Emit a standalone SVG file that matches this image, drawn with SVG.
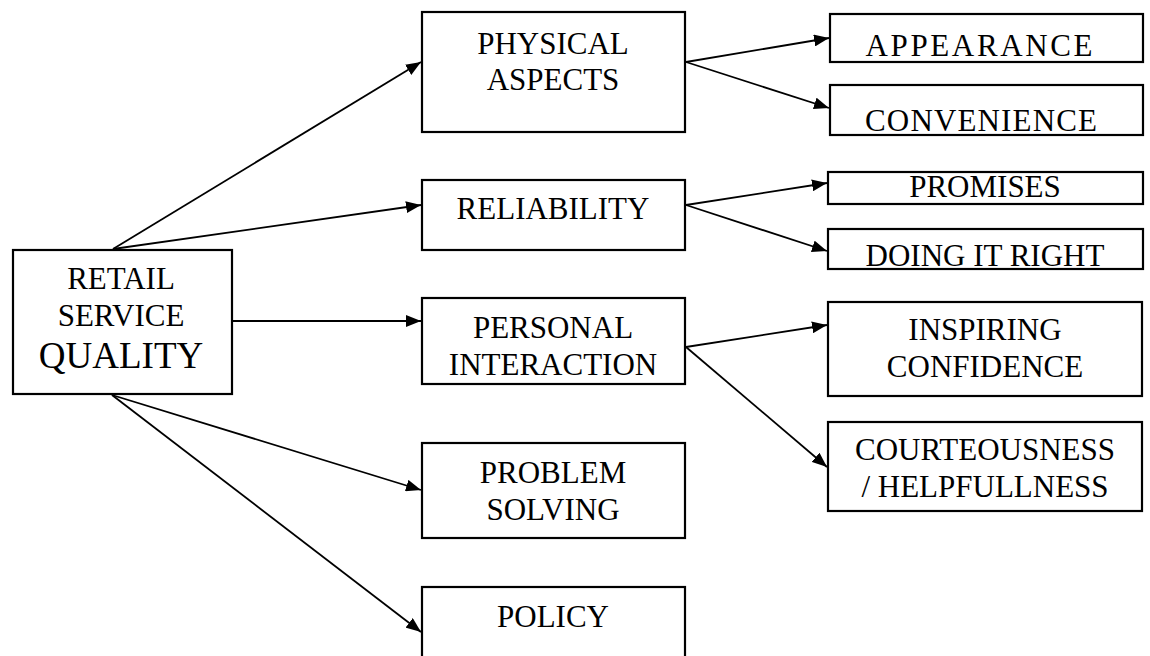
<svg xmlns="http://www.w3.org/2000/svg" width="1150" height="656" viewBox="0 0 1150 656">
<style>
.box{fill:#fff;stroke:#000;stroke-width:2.2}
.t{font-family:"Liberation Serif","Times New Roman",serif;font-size:31px;fill:#000;text-anchor:middle}
.big{font-size:37px}
.c{stroke:#000;stroke-width:1.8;fill:none;marker-end:url(#ah)}
</style>
<defs>
<marker id="ah" markerUnits="userSpaceOnUse" markerWidth="16" markerHeight="12" refX="15" refY="6" orient="auto">
<path d="M0,0 L15,6 L0,12 z" fill="#000"/>
</marker>
</defs>
<rect width="1150" height="656" fill="#fff"/>
<g id="connectors">
<line class="c" x1="113" y1="249" x2="421" y2="62"/>
<line class="c" x1="113" y1="249" x2="421" y2="205"/>
<line class="c" x1="232" y1="321" x2="421" y2="321"/>
<line class="c" x1="112" y1="395" x2="421" y2="490"/>
<line class="c" x1="112" y1="395" x2="421" y2="632"/>
<line class="c" x1="686" y1="62" x2="829" y2="38"/>
<line class="c" x1="686" y1="62" x2="829" y2="108"/>
<line class="c" x1="686" y1="205" x2="827" y2="183"/>
<line class="c" x1="686" y1="205" x2="827" y2="251"/>
<line class="c" x1="686" y1="347" x2="827" y2="325"/>
<line class="c" x1="686" y1="347" x2="827" y2="467"/>
</g>
<g id="retail">
<rect class="box" x="13" y="250" width="219" height="144"/>
<text class="t" x="121" y="289">RETAIL</text>
<text class="t" x="121" y="326">SERVICE</text>
<text class="t big" x="121" y="368">QUALITY</text>
</g>
<g id="physical">
<rect class="box" x="422" y="12" width="263" height="120"/>
<text class="t" x="553" y="54">PHYSICAL</text>
<text class="t" x="553" y="90">ASPECTS</text>
</g>
<g id="reliability">
<rect class="box" x="422" y="180" width="263" height="70"/>
<text class="t" x="553" y="219">RELIABILITY</text>
</g>
<g id="personal">
<rect class="box" x="422" y="298" width="263" height="86"/>
<text class="t" x="553" y="338">PERSONAL</text>
<text class="t" x="553" y="375">INTERACTION</text>
</g>
<g id="problem">
<rect class="box" x="422" y="443" width="263" height="95"/>
<text class="t" x="553" y="483">PROBLEM</text>
<text class="t" x="553" y="520">SOLVING</text>
</g>
<g id="policy">
<rect class="box" x="422" y="587" width="263" height="80"/>
<text class="t" x="553" y="627">POLICY</text>
</g>
<g id="appearance">
<rect class="box" x="830" y="14" width="313" height="48"/>
<text class="t" x="979" y="56" textLength="227" lengthAdjust="spacing">APPEARANCE</text>
</g>
<g id="convenience">
<rect class="box" x="830" y="85" width="313" height="50"/>
<text class="t" x="981" y="131" textLength="232" lengthAdjust="spacing">CONVENIENCE</text>
</g>
<g id="promises">
<rect class="box" x="828" y="172" width="315" height="32"/>
<text class="t" x="985" y="197">PROMISES</text>
</g>
<g id="doing">
<rect class="box" x="828" y="229" width="315" height="40"/>
<text class="t" x="985" y="266">DOING IT RIGHT</text>
</g>
<g id="inspiring">
<rect class="box" x="828" y="302" width="314" height="94"/>
<text class="t" x="985" y="340">INSPIRING</text>
<text class="t" x="985" y="377">CONFIDENCE</text>
</g>
<g id="courteous">
<rect class="box" x="828" y="422" width="314" height="89"/>
<text class="t" x="985" y="460">COURTEOUSNESS</text>
<text class="t" x="985" y="497">/ HELPFULLNESS</text>
</g>
</svg>
